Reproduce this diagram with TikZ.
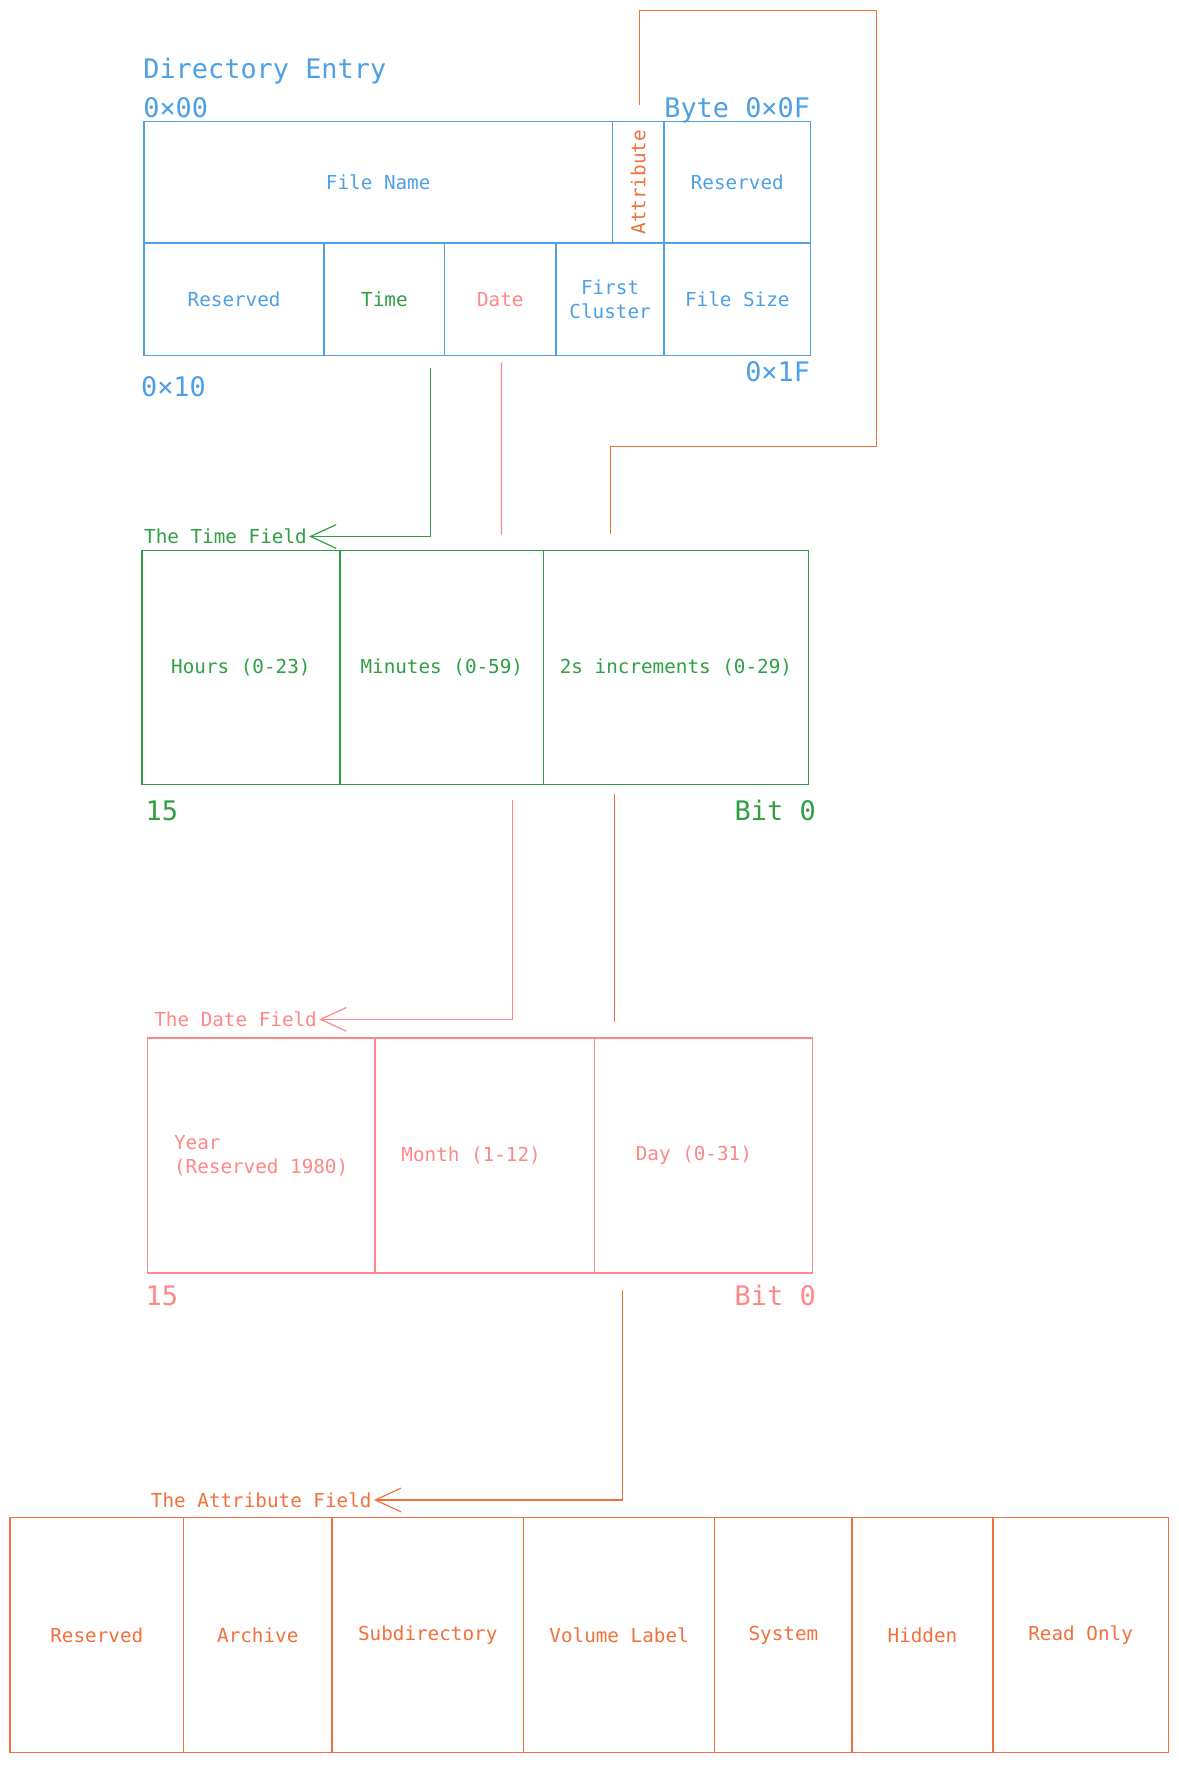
\documentclass[tikz,border=0pt]{standalone}
\usepackage{fontspec}
\setmainfont{DejaVu Sans Mono}
\usepackage{tikz}
\usetikzlibrary{positioning,calc,arrows.meta}
\definecolor{dirblue}{HTML}{4D9FE6}
\definecolor{timegreen}{HTML}{2F9E44}
\definecolor{datered}{HTML}{FF8787}
\definecolor{attrorange}{HTML}{F2703C}

\begin{document}
\begin{tikzpicture}[
    x=0.02cm, y=-0.02cm,
    cell/.style 2 args={rectangle, draw, inner sep=0pt, outer sep=0pt, line width=0.7pt,
        minimum width=#1*0.02cm, minimum height=#2*0.02cm, align=center, font=\fontsize{9.75}{12}\selectfont},
    small/.style={inner sep=1pt, font=\fontsize{9.75}{12}\selectfont},
    big/.style={inner sep=0pt, font=\fontsize{13.6}{16}\selectfont},
    conn/.style={line width=0.6pt},
    barb/.style={-{Straight Barb[length=13pt, width=12pt]}}
]
\useasboundingbox (0,0) rectangle (1047,1568);

% Directory entry
\node[cell={416}{108}, draw=dirblue, text=dirblue, anchor=north west] (fname) at (128,108) {File Name};
\node[cell={46}{108}, draw=dirblue, right=0pt of fname] (attr) {};
\node[rotate=90, small, text=attrorange] at (attr) {Attribute};
\node[cell={130}{108}, draw=dirblue, text=dirblue, right=0pt of attr] (resv1) {Reserved};
\node[cell={160}{100}, draw=dirblue, text=dirblue, anchor=north west] (resv2) at (fname.south west) {Reserved};
\node[cell={107}{100}, draw=dirblue, text=timegreen, right=0pt of resv2] (dtime) {Time};
\node[cell={99}{100}, draw=dirblue, text=datered, right=0pt of dtime] (ddate) {Date};
\node[cell={96}{100}, draw=dirblue, text=dirblue, right=0pt of ddate] (fclus) {First\\Cluster};
\node[cell={130}{100}, draw=dirblue, text=dirblue, right=0pt of fclus] (fsize) {File Size};

\node[big, text=dirblue, anchor=base west] (dirtitle) at ($(fname.north west)+(-1,-38)$) {Directory Entry};
\node[big, text=dirblue, anchor=base west] (off0) at ($(fname.north west)+(-1,-4)$) {0×00};
\node[big, text=dirblue, anchor=base east] (offF) at ($(resv1.north east)+(0,-4)$) {Byte 0×0F};
\node[big, text=dirblue, anchor=base west] (off10) at ($(resv2.south west)+(-3,36)$) {0×10};
\node[big, text=dirblue, anchor=base east] (off1F) at ($(fsize.south east)+(0,23)$) {0×1F};

% Time field
\node[cell={176}{208}, draw=timegreen, text=timegreen, anchor=north west] (thrs) at (126,489) {Hours (0-23)};
\node[cell={181}{208}, draw=timegreen, text=timegreen, right=0pt of thrs] (tmin) {Minutes (0-59)};
\node[cell={235}{208}, draw=timegreen, text=timegreen, right=0pt of tmin] (tsec) {2s increments (0-29)};
\node[small, text=timegreen, anchor=base west] (tlabel) at ($(thrs.north west)+(0,-6)$) {The Time Field};
\node[big, text=timegreen, anchor=base west] (tbit15) at ($(thrs.south west)+(3,32)$) {15};
\node[big, text=timegreen, anchor=base east] (tbit0) at ($(tsec.south east)+(7,32)$) {Bit 0};

% Date field
\node[cell={202}{209}, draw=datered, text=datered, anchor=north west, align=left] (dyear) at (131,922) {Year\\(Reserved 1980)};
\node[cell={195}{209}, draw=datered, text=datered, right=0pt of dyear] (dmonth) {Month (1-12)\hspace{1.4em}};
\node[cell={194}{209}, draw=datered, text=datered, right=0pt of dmonth] (dday) {Day (0-31)\hspace{1em}};
\node[small, text=datered, anchor=base west] (dlabel) at ($(dyear.north west)+(4,-10)$) {The Date Field};
\node[big, text=datered, anchor=base west] (dbit15) at ($(dyear.south west)+(-2,29)$) {15};
\node[big, text=datered, anchor=base east] (dbit0) at ($(dday.south east)+(3,29)$) {Bit 0};

% Attribute field
\node[cell={154}{209}, draw=attrorange, text=attrorange, anchor=north west] (ares) at (9,1348) {Reserved};
\node[cell={132}{209}, draw=attrorange, text=attrorange, right=0pt of ares] (aarch) {Archive};
\node[cell={170}{209}, draw=attrorange, text=attrorange, right=0pt of aarch] (asub) {Subdirectory};
\node[cell={170}{209}, draw=attrorange, text=attrorange, right=0pt of asub] (avol) {Volume Label};
\node[cell={122}{209}, draw=attrorange, text=attrorange, right=0pt of avol] (asys) {System};
\node[cell={125}{209}, draw=attrorange, text=attrorange, right=0pt of asys] (ahid) {Hidden};
\node[cell={156}{209}, draw=attrorange, text=attrorange, right=0pt of ahid] (aro) {Read Only};
\node[small, text=attrorange, anchor=base west] (alabel) at ($(ares.north west)+(123,-9)$) {The Attribute Field};

% Connectors
\draw[conn, timegreen, barb] ($(dtime.south)+(41,11)$) |- (tlabel.east);
\draw[conn, datered] ($(ddate.south)+(1,6)$) -- ($(tmin.north)+(53,-14)$);
\draw[conn, datered, barb] ($(tmin.south)+(63,14)$) |- (dlabel.east);
\draw[conn, attrorange] ($(attr.north)+(1,-15)$) -- ++(0,-84) -- ++(211,0) -- ++(0,388) -- ++(-237,0) -- ++(0,77);
\draw[conn, attrorange] ($(tsec.south west)+(63,8)$) -- ($(dday.north west)+(18,-14)$);
\draw[conn, attrorange, barb] ($(dday.south west)+(25,15)$) |- (alabel.east);
\end{tikzpicture}
\end{document}
